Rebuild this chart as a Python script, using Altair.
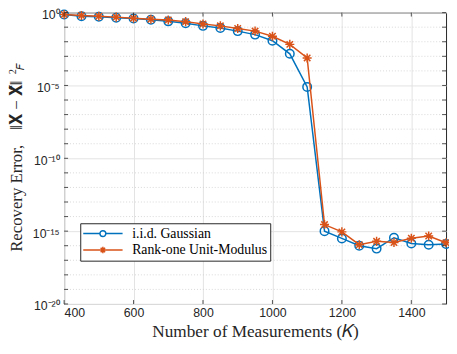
import altair as alt
import pandas as pd

# ---------------- data ----------------
K = [400, 450, 500, 550, 600, 650, 700, 750, 800, 850, 900, 950, 1000,
     1050, 1100, 1150, 1200, 1250, 1300, 1350, 1400, 1450, 1500]
# log10 of recovery error
gauss_log10 = [-0.13, -0.25, -0.29, -0.35, -0.40, -0.49, -0.60, -0.73, -0.91,
               -1.05, -1.27, -1.51, -1.93, -2.83, -5.10, -15.00, -15.50,
               -16.00, -16.20, -15.45, -15.85, -15.93, -15.88]
rank1_log10 = [-0.13, -0.20, -0.25, -0.31, -0.38, -0.45, -0.51, -0.62, -0.78,
               -0.91, -1.09, -1.27, -1.62, -2.18, -3.11, -14.55, -15.05,
               -15.93, -15.70, -15.78, -15.49, -15.33, -15.80]
series_names = ["i.i.d.  Gaussian", "Rank-one Unit-Modulus"]
series_colors = ["#0072BD", "#D95319"]
x_ticks = [400, 600, 800, 1000, 1200, 1400]
y_major_exp = [0, -5, -10, -15, -20]
y_all_exp = list(range(0, -21, -1))

W, H = 388, 296

rows = []
for k, g, r in zip(K, gauss_log10, rank1_log10):
    rows.append({"K": k, "err": 10.0 ** g, "series": series_names[0]})
    rows.append({"K": k, "err": 10.0 ** r, "series": series_names[1]})
df = pd.DataFrame(rows)

minor_df = pd.DataFrame({"v": [10.0 ** e for e in y_all_exp if e not in y_major_exp]})
ytick_df = pd.DataFrame({"v": [10.0 ** e for e in y_all_exp]})
xtick_df = pd.DataFrame({"K": x_ticks})

xscale = alt.Scale(domain=[400, 1500], nice=False, zero=False)
yscale = alt.Scale(type="log", domain=[1e-20, 1], nice=False)

label_expr = ("datum.value > 0.5 ? '10⁰' : datum.value > 1e-6 ? '10⁻⁵' : "
              "datum.value > 1e-11 ? '10⁻¹⁰' : datum.value > 1e-16 ? '10⁻¹⁵' : '10⁻²⁰'")

x_enc = alt.X("K:Q", scale=xscale,
              axis=alt.Axis(values=x_ticks, format="d", grid=True, gridColor="#e3e3e3",
                            domain=False, ticks=False, labelFont="Liberation Sans",
                            labelFontSize=12.5, labelColor="#262626", labelPadding=3,
                            title="Number of Measurements (𝐾)",
                            titleFont="Liberation Serif", titleFontSize=17.5,
                            titleFontWeight="normal", titleColor="#262626",
                            titlePadding=4))
y_enc = alt.Y("err:Q", scale=yscale,
              axis=alt.Axis(values=[10.0 ** e for e in y_major_exp], grid=True,
                            gridColor="#e3e3e3", domain=False, ticks=False,
                            labelExpr=label_expr, labelFont="Liberation Sans",
                            labelFontSize=12.5, labelColor="#262626",
                            labelPadding=5, labelOffset=2, title=None))

base = alt.Chart(df)

# dotted minor grid lines
minor_grid = alt.Chart(minor_df).mark_rule(color="#cfcfcf", strokeDash=[1, 2],
                                           strokeWidth=0.8).encode(
    y=alt.Y("v:Q", scale=yscale))

# inward ticks
yt_left = alt.Chart(ytick_df).mark_rule(color="#262626", strokeWidth=0.8).encode(
    y=alt.Y("v:Q", scale=yscale), x=alt.value(0), x2=alt.value(4))
yt_right = alt.Chart(ytick_df).mark_rule(color="#262626", strokeWidth=0.8).encode(
    y=alt.Y("v:Q", scale=yscale), x=alt.value(W - 4), x2=alt.value(W))
xt_bot = alt.Chart(xtick_df).mark_rule(color="#262626", strokeWidth=0.8).encode(
    x=alt.X("K:Q", scale=xscale), y=alt.value(H - 4), y2=alt.value(H))
xt_top = alt.Chart(xtick_df).mark_rule(color="#262626", strokeWidth=0.8).encode(
    x=alt.X("K:Q", scale=xscale), y=alt.value(0), y2=alt.value(4))

star_path = ("M-1,0H1M0,-1V1M-0.71,-0.71L0.71,0.71M-0.71,0.71L0.71,-0.71")

blue_line = base.transform_filter(alt.datum.series == series_names[0]).mark_line(
    color=series_colors[0], strokeWidth=1.5).encode(x=x_enc, y=y_enc)
blue_pts = base.transform_filter(alt.datum.series == series_names[0]).mark_point(
    shape="circle", filled=False, size=75, color=series_colors[0],
    strokeWidth=1.5, opacity=1).encode(x=alt.X("K:Q", scale=xscale),
                                       y=alt.Y("err:Q", scale=yscale))
orange_line = base.transform_filter(alt.datum.series == series_names[1]).mark_line(
    color=series_colors[1], strokeWidth=1.5).encode(x=alt.X("K:Q", scale=xscale),
                                                   y=alt.Y("err:Q", scale=yscale))
orange_pts = base.transform_filter(alt.datum.series == series_names[1]).mark_point(
    shape=star_path, filled=False, size=85, color=series_colors[1],
    strokeWidth=1.5, opacity=1).encode(x=alt.X("K:Q", scale=xscale),
                                       y=alt.Y("err:Q", scale=yscale))

# legend-only layer: points placed outside the x-domain and clipped
c, rr = 1.92, 0.46
a, b = -1.15, 5.0
leg_circle = (f"M{a},0H{c - rr}M{c + rr},0H{b}"
              f"M{c + rr},0A{rr},{rr} 0 1,1 {c - rr},0A{rr},{rr} 0 1,1 {c + rr},0")
s, d = 0.5, 0.35
leg_star = (f"M{a},0H{b}M{c},{-s}V{s}M{c - d},{-d}L{c + d},{d}"
            f"M{c - d},{d}L{c + d},{-d}")
legend_df = pd.DataFrame({"K": [3000, 3000], "err": [1e-10, 1e-10],
                          "series": series_names})
legend_layer = alt.Chart(legend_df).mark_point(filled=False, size=169,
                                               strokeWidth=1.5, clip=True).encode(
    x=alt.X("K:Q", scale=xscale),
    y=alt.Y("err:Q", scale=yscale),
    color=alt.Color("series:N",
                    scale=alt.Scale(domain=series_names, range=series_colors),
                    legend=alt.Legend(orient="none", legendX=16.4, legendY=214,
                                      title=None, fillColor="white",
                                      strokeColor="#262626", padding=3,
                                      symbolSize=169, symbolStrokeWidth=1.5,
                                      symbolOpacity=1, labelFont="Liberation Serif",
                                      labelFontSize=14, labelColor="black",
                                      labelOffset=34.7, rowPadding=1.6,
                                      labelLimit=0, cornerRadius=0)),
    shape=alt.Shape("series:N",
                    scale=alt.Scale(domain=series_names, range=[leg_circle, leg_star]),
                    legend=alt.Legend(orient="none", legendX=16.4, legendY=214,
                                      title=None)),
)

# y-axis title built from text pieces (superscript 2 and subscript F)
title_font = "Liberation Serif"
ytitle_a = alt.Chart(pd.DataFrame({"t": ["Recovery Error,"]})).mark_text(
    angle=270, align="left", baseline="alphabetic", font=title_font,
    fontSize=17, color="#262626").encode(
    text="t:N", x=alt.value(-43), y=alt.value(243))
ytitle_b = alt.Chart(pd.DataFrame({"t": ["‖𝐗 − 𝐗̂‖"]})).mark_text(
    angle=270, align="right", baseline="alphabetic", font=title_font,
    fontSize=17, color="#262626").encode(
    text="t:N", x=alt.value(-43), y=alt.value(69))
ytitle_sup = alt.Chart(pd.DataFrame({"t": ["2"]})).mark_text(
    angle=270, align="center", baseline="middle", font=title_font,
    fontSize=10.5, color="#262626").encode(
    text="t:N", x=alt.value(-51.5), y=alt.value(60))
ytitle_sub = alt.Chart(pd.DataFrame({"t": ["𝐹"]})).mark_text(
    angle=270, align="center", baseline="middle", font=title_font,
    fontSize=10.5, color="#262626").encode(
    text="t:N", x=alt.value(-44), y=alt.value(55))

chart = alt.layer(
    minor_grid, blue_line, blue_pts, orange_line, orange_pts, legend_layer,
    yt_left, yt_right, xt_bot, xt_top, ytitle_a, ytitle_b, ytitle_sup, ytitle_sub
).properties(
    width=W, height=H,
    padding={"left": 57, "top": 2, "right": 3, "bottom": 40},
    autosize=alt.AutoSizeParams(type="none"),
    background="white",
).configure_view(stroke="#262626", strokeWidth=1
).configure_axis(titleFont="Liberation Serif", titleFontWeight="normal")

chart.save("out.html", embed_options={"renderer": "svg", "actions": False})
